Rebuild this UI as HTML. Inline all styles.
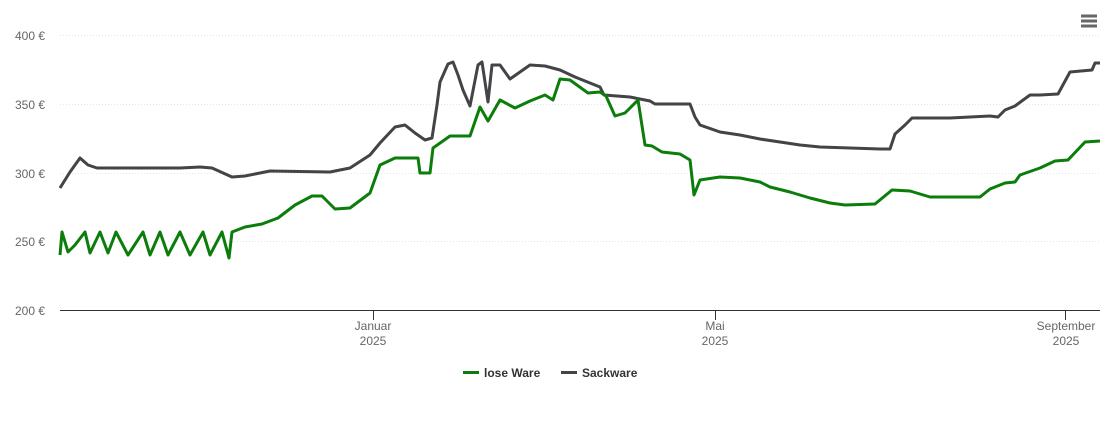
<!DOCTYPE html>
<html><head><meta charset="utf-8"><style>
body{margin:0;background:#fff;}
svg{display:block;font-family:"Liberation Sans",sans-serif;}
</style></head><body>
<svg width="1110" height="423" viewBox="0 0 1110 423">
<g stroke="#e6e6e6" stroke-width="1" stroke-dasharray="1,2">
<line x1="60" x2="1100" y1="35.5" y2="35.5"/>
<line x1="60" x2="1100" y1="104.5" y2="104.5"/>
<line x1="60" x2="1100" y1="173.5" y2="173.5"/>
<line x1="60" x2="1100" y1="241.5" y2="241.5"/>
</g>
<line x1="60" x2="1100" y1="310.5" y2="310.5" stroke="#333" stroke-width="1"/>
<g stroke="#333"><line x1="373.5" x2="373.5" y1="310" y2="320"/><line x1="715.5" x2="715.5" y1="310" y2="320"/><line x1="1065.5" x2="1065.5" y1="310" y2="320"/></g>
<g font-size="12" fill="#666" text-anchor="end">
<text x="45" y="40">400 €</text><text x="45" y="109">350 €</text><text x="45" y="178">300 €</text><text x="45" y="246">250 €</text><text x="45" y="315">200 €</text>
</g>
<g font-size="12" fill="#666" text-anchor="middle">
<text x="373" y="330">Januar</text><text x="373" y="345">2025</text>
<text x="715" y="330">Mai</text><text x="715" y="345">2025</text>
<text x="1066" y="330">September</text><text x="1066" y="345">2025</text>
</g>
<polyline fill="none" stroke="#434348" stroke-width="3" stroke-linejoin="round" points="60,188 70,172 80,158 88,165 97,168 180,168 200,167 212,168 232,177 245,176 270,171 330,172 350,168 370,155 380,143 395,127 405,125 415,133 425,140 432,138 437,105 440,82 448,64 453,62 458,75 463,90 470,106 478,65 482,62 488,102 492,65 500,65 510,79 520,72 530,65 545,66 560,70 575,77 590,83 600,87 604,95 630,97 650,101 655,104 690,104 695,117 700,125 720,132 740,135 760,139 780,142 800,145 820,147 850,148 880,149 890,149 895,134 905,125 912,118 950,118 990,116 998,117 1005,110 1015,106 1030,95 1040,95 1058,94 1070,72 1092,70 1095,63 1100,63"/>
<polyline fill="none" stroke="#0a7d0a" stroke-width="3" stroke-linejoin="round" points="60,255 62,232 68,252 75,245 85,232 90,253 100,232 108,253 116,232 128,255 143,232 150,255 160,232 168,255 180,232 190,255 203,232 210,255 222,232 229,258 232,232 245,227 262,224 278,218 295,205 312,196 322,196 335,209 350,208 370,193 380,165 395,158 418,158 420,173 430,173 433,148 450,136 470,136 480,107 488,121 500,100 515,108 530,101 545,95 553,100 560,79 570,80 588,93 600,92 606,96 615,116 625,113 638,100 645,145 652,146 662,152 680,154 690,160 694,195 700,180 720,177 740,178 760,182 770,187 790,192 810,198 830,203 845,205 875,204 892,190 910,191 930,197 980,197 990,189 1005,183 1015,182 1020,175 1040,168 1055,161 1068,160 1085,142 1100,141"/>
<g stroke="#666" stroke-width="3"><line x1="1081" x2="1097" y1="16" y2="16"/><line x1="1081" x2="1097" y1="21" y2="21"/><line x1="1081" x2="1097" y1="26" y2="26"/></g>
<line x1="463" x2="479" y1="372.5" y2="372.5" stroke="#0a7d0a" stroke-width="3"/>
<text x="484" y="377" font-size="12" font-weight="bold" fill="#333">lose Ware</text>
<line x1="561" x2="577" y1="372.5" y2="372.5" stroke="#434348" stroke-width="3"/>
<text x="582" y="377" font-size="12" font-weight="bold" fill="#333">Sackware</text>
</svg>
</body></html>
